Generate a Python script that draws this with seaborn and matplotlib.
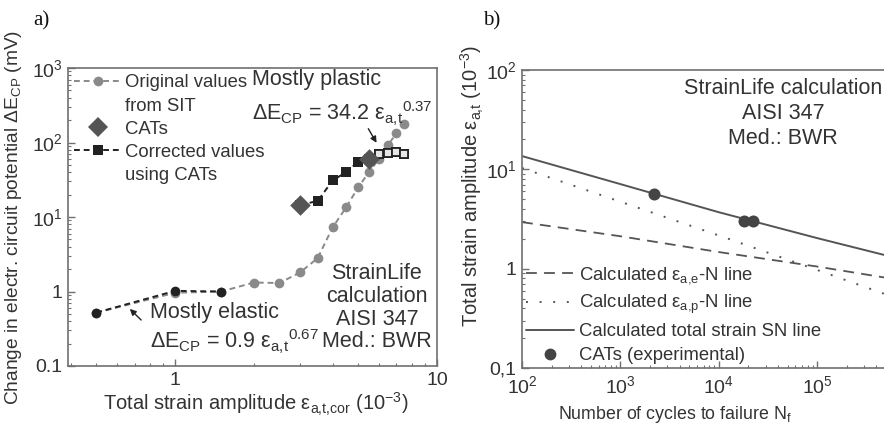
import matplotlib
matplotlib.use("Agg")
import matplotlib.pyplot as plt
from matplotlib.lines import Line2D
import numpy as np
import pandas as pd
import seaborn as sns

# ---------------- data ----------------
# panel a
orig_x = [0.5, 1, 1.5, 2, 2.5, 3, 3.5, 4, 4.5, 5, 5.5, 6, 6.5, 7, 7.5]
orig_y = [0.52, 0.96, 1.0, 1.32, 1.3, 1.8, 2.8, 7.3, 13.5, 25, 40, 60, 92, 134, 177]
corr_low_x = [0.5, 1, 1.5]
corr_low_y = [0.52, 1.02, 1.0]
corr_x = [3, 3.5, 4, 4.5, 5, 5.5, 6, 6.5, 7, 7.5]
corr_y = [14.5, 16.4, 31, 40, 55, 60, 70, 72, 74, 71]
cats_a_x = [3, 5.5]
cats_a_y = [14.5, 60]
a_xticks = [1, 10]
a_xticklabels = ["1", "10"]
a_yticks = [0.1, 1, 10, 100, 1000]
a_yticklabels = ["0.1", "1", "10$^1$", "10$^2$", "10$^3$"]

# panel b
N_line = [1e2, 1e3, 1e4, 1e5, 5e5]
eps_e = [2.94, 2.12, 1.47, 1.05, 0.81]
eps_p = [10.3, 4.72, 2.16, 0.97, 0.55]
eps_t = [13.6, 7.1, 3.7, 2.03, 1.36]
cats_b_N = [2200, 17900, 22500]
cats_b_eps = [5.6, 3.0, 3.0]
b_xticks = [1e2, 1e3, 1e4, 1e5]
b_xticklabels = ["10$^2$", "10$^3$", "10$^4$", "10$^5$"]
b_yticks = [0.1, 1, 10, 100]
b_yticklabels = ["0,1", "1", "10$^1$", "10$^2$"]

# ---------------- style ----------------
sns.set_theme(style="ticks")
plt.rcParams["font.family"] = ["Liberation Sans", "DejaVu Sans"]
plt.rcParams["mathtext.fontset"] = "custom"
plt.rcParams["mathtext.rm"] = "Liberation Sans"
plt.rcParams["mathtext.it"] = "Liberation Sans:italic"
plt.rcParams["mathtext.bf"] = "Liberation Sans:bold"

TXT = "#333333"
SPINE = "#707070"
GRAY = "#8a8a8a"
BLACK = "#222222"
DIAM = "#555555"
LINEB = "#555555"

fig = plt.figure(figsize=(8.84, 4.30), dpi=100)
W, H = 884, 430
axA = fig.add_axes([68 / W, (H - 366) / H, (437 - 68) / W, 298 / H])
axB = fig.add_axes([522 / W, (H - 368) / H, 364 / W, 298 / H])


def style_axis(ax):
    for s in ax.spines.values():
        s.set_color(SPINE)
        s.set_linewidth(1.2)
        s.set_visible(True)
    ax.tick_params(which="both", direction="in", colors=SPINE, labelcolor=TXT,
                   labelsize=14, top=False, right=False)
    ax.tick_params(which="major", length=5, width=1.0, pad=4)
    ax.tick_params(which="minor", length=2.5, width=0.8)


def log_minor(ax):
    ax.xaxis.set_minor_locator(matplotlib.ticker.LogLocator(base=10, subs=np.arange(2, 10)))
    ax.yaxis.set_minor_locator(matplotlib.ticker.LogLocator(base=10, subs=np.arange(2, 10)))
    ax.xaxis.set_minor_formatter(matplotlib.ticker.NullFormatter())
    ax.yaxis.set_minor_formatter(matplotlib.ticker.NullFormatter())


# ---------------- panel a ----------------
ax = axA
ax.set_xscale("log")
ax.set_yscale("log")

sns.lineplot(x=orig_x, y=orig_y, ax=ax, color=GRAY, linestyle=(0, (3, 2)), lw=1.4,
             marker="o", markersize=7, markeredgewidth=0, markerfacecolor=GRAY,
             sort=False, estimator=None)
h_orig = ax.lines[-1]
sns.lineplot(x=corr_low_x, y=corr_low_y, ax=ax, color=BLACK, linestyle=(0, (3, 2)), lw=1.4,
             marker="o", markersize=7, markeredgewidth=0, markerfacecolor=BLACK,
             sort=False, estimator=None)
sns.lineplot(x=corr_x, y=corr_y, ax=ax, color=BLACK, linestyle=(0, (3, 2)), lw=1.4,
             marker="s", markersize=7, markeredgewidth=0, markerfacecolor=BLACK,
             sort=False, estimator=None)
h_corr = ax.lines[-1]
corr_df = pd.DataFrame({"x": corr_x, "y": corr_y})
hollow = corr_df[corr_df["x"] >= 6]
sns.scatterplot(data=hollow, x="x", y="y", ax=ax, marker="s", s=40,
                facecolor="#e6e6e6", edgecolor=BLACK, linewidth=1.3, zorder=4)
sns.scatterplot(x=cats_a_x, y=cats_a_y, ax=ax, marker="D", s=110,
                color=DIAM, edgecolor=DIAM, linewidth=0, zorder=5)
h_cats = Line2D([], [], ls="none", marker="D", markersize=10, color=DIAM, markeredgewidth=0)

ax.set_xlim(0.39, 10)
ax.set_ylim(0.1, 1000)
style_axis(ax)
ax.set_xticks(a_xticks, a_xticklabels)
ax.set_yticks(a_yticks, a_yticklabels)
log_minor(ax)

ax.set_xlabel("Total strain amplitude ε$_{\\rm a{,}t{,}cor}$ (10$^{-3}$)", fontsize=14.5, color=TXT)
ax.xaxis.set_label_coords(0.51, -0.085)
ax.set_ylabel("Change in electr. circuit potential ΔE$_{\\rm CP}$ (mV)", fontsize=13.8, color=TXT)
ax.yaxis.set_label_coords(-0.12, 0.5)

blank = Line2D([], [], ls="none")
leg = ax.legend([h_orig, blank, h_cats, h_corr, blank],
                ["Original values", "from SIT", "CATs", "Corrected values", "using CATs"],
                loc="upper left", frameon=False, fontsize=13.3, handlelength=2.5,
                handletextpad=0.25, labelspacing=0.33, borderaxespad=0.1, borderpad=0.25)
for t in leg.get_texts():
    t.set_color(TXT)

ax.text(0.499, 0.96, "Mostly plastic", transform=ax.transAxes, fontsize=15.5,
        color=TXT, ha="left", va="center")
ax.text(0.499, 0.845, "ΔE$_{\\rm CP}$ = 34.2 ε$_{\\rm a{,}t}{}^{0.37}$", transform=ax.transAxes,
        fontsize=15.5, color=TXT, ha="left", va="center")
ax.annotate("", xy=(5.95, 92), xytext=(5.4, 165),
            arrowprops=dict(arrowstyle="-|>", color=BLACK, lw=1.0, mutation_scale=9))
ax.text(0.837, 0.195, "StrainLife\ncalculation\nAISI 347\nMed.: BWR", transform=ax.transAxes,
        fontsize=15.5, color=TXT, ha="center", va="center", linespacing=1.1)
ax.text(0.222, 0.178, "Mostly elastic", transform=ax.transAxes, fontsize=15.5,
        color=TXT, ha="left", va="center")
ax.text(0.222, 0.08, "ΔE$_{\\rm CP}$ = 0.9 ε$_{\\rm a{,}t}{}^{0.67}$", transform=ax.transAxes,
        fontsize=15.5, color=TXT, ha="left", va="center")
ax.annotate("", xy=(0.66, 0.62), xytext=(0.755, 0.39),
            arrowprops=dict(arrowstyle="-|>", color=BLACK, lw=1.0, mutation_scale=9))

# ---------------- panel b ----------------
ax = axB
ax.set_xscale("log")
ax.set_yscale("log")
sns.lineplot(x=N_line, y=eps_e, ax=ax, color=LINEB, linestyle=(0, (6, 4)), lw=1.3,
             sort=False, estimator=None)
h_e = ax.lines[-1]
sns.lineplot(x=N_line, y=eps_p, ax=ax, color=LINEB, linestyle=(0, (1, 6)), lw=1.4,
             sort=False, estimator=None)
h_p = ax.lines[-1]
sns.lineplot(x=N_line, y=eps_t, ax=ax, color=LINEB, linestyle="-", lw=1.4,
             sort=False, estimator=None)
h_t = ax.lines[-1]
sns.scatterplot(x=cats_b_N, y=cats_b_eps, ax=ax, marker="o", s=75, color="#444444",
                edgecolor="#444444", linewidth=0, zorder=5)
h_cb = Line2D([], [], ls="none", marker="o", markersize=8.5, color="#444444", markeredgewidth=0)

ax.set_xlim(1e2, 5e5)
ax.set_ylim(0.1, 100)
style_axis(ax)
ax.tick_params(axis="x", which="major", pad=5.5)
ax.set_xticks(b_xticks, b_xticklabels)
ax.set_yticks(b_yticks, b_yticklabels)
log_minor(ax)

ax.set_xlabel("Number of cycles to failure N$_{\\rm f}$", fontsize=12.8, color=TXT)
ax.xaxis.set_label_coords(0.42, -0.12)
ax.set_ylabel("Total strain amplitude ε$_{\\rm a{,}t}$ (10$^{-3}$)", fontsize=14.5, color=TXT)
ax.yaxis.set_label_coords(-0.10, 0.61)

leg = ax.legend([h_e, h_p, h_t, h_cb],
                ["Calculated ε$_{\\rm a{,}e}$-N line", "Calculated ε$_{\\rm a{,}p}$-N line",
                 "Calculated total strain SN line", "CATs (experimental)"],
                loc="lower left", frameon=False, fontsize=13.3, handlelength=2.6,
                handletextpad=0.3, labelspacing=0.38, borderaxespad=0.05, borderpad=0.15)
for t in leg.get_texts():
    t.set_color(TXT)

ax.text(0.717, 0.855, "StrainLife calculation\nAISI 347\nMed.: BWR", transform=ax.transAxes,
        fontsize=15.5, color=TXT, ha="center", va="center", linespacing=1.25)

# panel letters
fig.text(33 / W, 1 - 21 / H, "a)", family="Liberation Serif", fontsize=15, color="#111111",
         ha="left", va="center")
fig.text(483 / W, 1 - 21 / H, "b)", family="Liberation Serif", fontsize=15, color="#111111",
         ha="left", va="center")

fig.savefig("out.png", dpi=100)
